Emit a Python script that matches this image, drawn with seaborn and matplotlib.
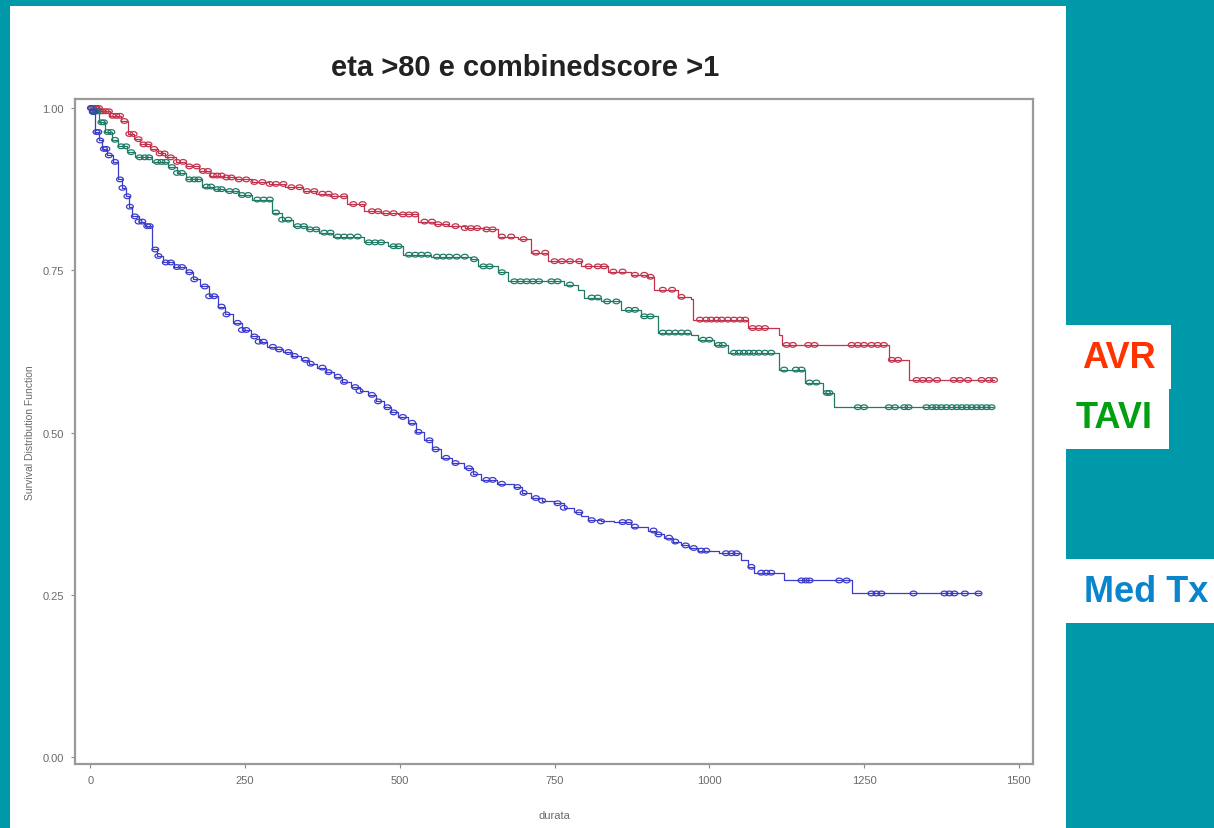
import numpy as np
import pandas as pd
import matplotlib
matplotlib.use("Agg")
import matplotlib.pyplot as plt
from matplotlib.path import Path
import seaborn as sns

# ---------------- data ----------------
groups = ["AVR", "TAVI", "Med Tx"]

avr_time = [0, 16, 32, 49, 61, 71, 81, 97, 110, 121, 138, 154, 175, 194, 215, 235, 262,
            288, 315, 343, 365, 388, 415, 442, 470, 497, 529, 555, 578, 605, 636, 659,
            691, 712, 739, 793, 837, 874, 901, 911, 950, 971, 974, 1063, 1112, 1117,
            1291, 1322, 1460]
avr_surv = [1.000, 0.995, 0.988, 0.980, 0.960, 0.952, 0.944, 0.937, 0.930, 0.924, 0.917,
            0.910, 0.903, 0.896, 0.893, 0.890, 0.886, 0.883, 0.878, 0.872, 0.868, 0.864,
            0.852, 0.841, 0.838, 0.836, 0.825, 0.821, 0.818, 0.815, 0.813, 0.802, 0.798,
            0.777, 0.764, 0.756, 0.748, 0.743, 0.740, 0.720, 0.709, 0.705, 0.674, 0.661,
            0.651, 0.635, 0.612, 0.581, 0.581]

tavi_time = [0, 3, 14, 24, 35, 45, 60, 73, 100, 126, 140, 154, 181, 200, 218, 240, 262,
             294, 310, 327, 350, 369, 392, 442, 481, 506, 550, 615, 626, 659, 675, 733,
             765, 788, 798, 825, 858, 890, 917, 971, 982, 1008, 1031, 1113, 1154, 1184,
             1201, 1458]
tavi_surv = [1.000, 0.995, 0.978, 0.963, 0.951, 0.941, 0.932, 0.924, 0.917, 0.909, 0.900,
             0.890, 0.879, 0.875, 0.872, 0.866, 0.859, 0.839, 0.828, 0.818, 0.813, 0.808,
             0.802, 0.793, 0.787, 0.774, 0.771, 0.767, 0.756, 0.747, 0.733, 0.733, 0.728,
             0.720, 0.708, 0.702, 0.689, 0.679, 0.654, 0.651, 0.643, 0.635, 0.623, 0.597,
             0.577, 0.561, 0.539, 0.539]

med_time = [0, 3, 8, 14, 19, 27, 36, 45, 51, 57, 63, 68, 78, 89, 100, 108, 117, 135, 154,
            166, 178, 192, 206, 218, 231, 245, 259, 272, 286, 299, 312, 326, 340, 354, 367,
            380, 393, 407, 421, 435, 448, 461, 474, 486, 497, 513, 526, 539, 552, 566, 585,
            604, 618, 631, 657, 684, 698, 712, 730, 749, 765, 782, 793, 804, 825, 846, 873,
            901, 914, 927, 941, 955, 968, 982, 1015, 1052, 1062, 1073, 1120, 1230, 1438]
med_surv = [1.000, 0.994, 0.963, 0.950, 0.937, 0.927, 0.917, 0.890, 0.877, 0.864, 0.848,
            0.833, 0.825, 0.818, 0.782, 0.772, 0.762, 0.755, 0.747, 0.736, 0.725, 0.710,
            0.694, 0.682, 0.669, 0.658, 0.648, 0.640, 0.632, 0.628, 0.624, 0.618, 0.612,
            0.606, 0.600, 0.593, 0.586, 0.578, 0.570, 0.564, 0.558, 0.548, 0.539, 0.531,
            0.524, 0.515, 0.501, 0.488, 0.474, 0.461, 0.453, 0.445, 0.436, 0.427, 0.421,
            0.416, 0.407, 0.399, 0.395, 0.391, 0.384, 0.377, 0.371, 0.365, 0.363, 0.362,
            0.355, 0.349, 0.343, 0.338, 0.332, 0.326, 0.322, 0.318, 0.314, 0.303, 0.293,
            0.284, 0.272, 0.252, 0.252]

avr_censor = [2, 5, 8, 10, 14, 17, 20, 25, 30, 36, 42, 48, 55, 63, 70, 78, 86, 94, 103, 112,
              120, 130, 140, 150, 160, 172, 182, 190, 198, 205, 212, 220, 228, 240, 252,
              265, 278, 290, 300, 312, 325, 338, 350, 362, 375, 385, 395, 410, 425, 440,
              455, 465, 478, 490, 505, 515, 525, 540, 552, 562, 575, 590, 605, 615, 625,
              640, 650, 665, 680, 700, 720, 735, 750, 762, 775, 790, 805, 820, 830, 845,
              860, 880, 895, 905, 925, 940, 955, 985, 995, 1003, 1012, 1020, 1030, 1040,
              1050, 1058, 1070, 1080, 1090, 1125, 1135, 1160, 1170, 1230, 1240, 1250,
              1262, 1272, 1282, 1295, 1305, 1335, 1345, 1355, 1368, 1395, 1405, 1418,
              1440, 1452, 1460]
tavi_censor = [2, 6, 9, 12, 18, 22, 28, 34, 40, 50, 58, 66, 80, 88, 95, 108, 115, 122, 132,
               140, 148, 160, 168, 175, 188, 195, 205, 212, 225, 235, 245, 255, 270, 280,
               290, 300, 310, 320, 335, 345, 355, 365, 378, 388, 400, 410, 420, 432, 450,
               460, 470, 490, 498, 515, 525, 535, 545, 560, 570, 580, 592, 605, 620, 635,
               645, 665, 685, 695, 705, 715, 725, 745, 755, 775, 810, 820, 835, 850, 870,
               880, 895, 905, 925, 935, 945, 955, 965, 990, 1000, 1015, 1022, 1040, 1048,
               1056, 1064, 1072, 1080, 1090, 1100, 1121, 1140, 1149, 1162, 1173, 1190,
               1194, 1240, 1250, 1290, 1300, 1315, 1322, 1351, 1360, 1367, 1375, 1383,
               1392, 1400, 1408, 1416, 1424, 1432, 1440, 1448, 1456]
med_censor = [1, 4, 6, 10, 13, 16, 22, 26, 30, 40, 48, 52, 60, 64, 72, 78, 84, 92, 96, 105,
              110, 122, 130, 140, 148, 160, 168, 185, 192, 200, 212, 220, 238, 245, 252,
              265, 272, 280, 295, 305, 320, 330, 348, 356, 375, 385, 400, 410, 428, 435,
              455, 465, 480, 490, 505, 520, 530, 548, 558, 575, 590, 612, 620, 640, 650,
              665, 690, 700, 720, 730, 755, 765, 790, 810, 825, 860, 870, 880, 910, 918,
              935, 945, 962, 975, 987, 995, 1027, 1036, 1044, 1068, 1084, 1092, 1100, 1149,
              1156, 1162, 1210, 1222, 1262, 1270, 1278, 1330, 1380, 1388, 1396, 1413,
              1435]

x_ticks = [0, 250, 500, 750, 1000, 1250, 1500]
y_ticks = [0.00, 0.25, 0.50, 0.75, 1.00]
y_ticklabels = ["0.00", "0.25", "0.50", "0.75", "1.00"]

line_colors = {"AVR": "#C2324C", "TAVI": "#1F7A66", "Med Tx": "#3B3BCC"}
label_colors = {"AVR": "#FF3300", "TAVI": "#00A010", "Med Tx": "#0A84CC"}

# ---------------- tables ----------------
curves = pd.concat([
    pd.DataFrame({"t": avr_time, "s": avr_surv, "g": "AVR"}),
    pd.DataFrame({"t": tavi_time, "s": tavi_surv, "g": "TAVI"}),
    pd.DataFrame({"t": med_time, "s": med_surv, "g": "Med Tx"}),
], ignore_index=True)


def at(times, survs, c):
    i = np.searchsorted(np.asarray(times), c, side="right") - 1
    return np.asarray(survs)[i]


cens = pd.concat([
    pd.DataFrame({"t": avr_censor, "s": at(avr_time, avr_surv, avr_censor), "g": "AVR"}),
    pd.DataFrame({"t": tavi_censor, "s": at(tavi_time, tavi_surv, tavi_censor), "g": "TAVI"}),
    pd.DataFrame({"t": med_censor, "s": at(med_time, med_surv, med_censor), "g": "Med Tx"}),
], ignore_index=True)

# slightly wide oval censor marker
_th = np.linspace(0, 2 * np.pi, 33)
oval = Path(np.column_stack([1.45 * np.cos(_th), np.sin(_th)]), closed=True)

# ---------------- figure ----------------
sns.set_theme(style="white")
plt.rcParams["font.family"] = ["Liberation Sans", "DejaVu Sans"]

fig = plt.figure(figsize=(12.14, 8.29), dpi=100)
fig.patch.set_facecolor("#0099AA")

# white slide panel (behind everything)
fig.patches.append(plt.Rectangle((10 / 1214, 0), (1066 - 10) / 1214, 1 - 7 / 829,
                                 transform=fig.transFigure, facecolor="white",
                                 edgecolor="none", zorder=-10))

ax = fig.add_axes([75 / 1214, 1 - 765 / 829, (1033 - 75) / 1214, (765 - 100) / 829])
ax.set_zorder(5)
ax.set_facecolor("white")

sns.lineplot(data=curves, x="t", y="s", hue="g", palette=line_colors, estimator=None,
             drawstyle="steps-post", linewidth=0.9, legend=False, ax=ax, sort=False)
sns.scatterplot(data=cens, x="t", y="s", hue="g", palette=line_colors, marker=oval,
                s=24, linewidth=0.9, legend=False, ax=ax, zorder=3)
for coll in ax.collections:
    fc = coll.get_facecolors()
    coll.set_edgecolors(fc)
    coll.set_facecolors("none")

ax.set_xlim(-24.7, 1523)
ax.set_ylim(-0.0108, 1.0139)
ax.set_xticks(x_ticks)
ax.set_xticklabels([str(v) for v in x_ticks])
ax.set_yticks(y_ticks)
ax.set_yticklabels(y_ticklabels)
ax.tick_params(axis="both", which="both", direction="out", length=3, width=0.8,
               color="#888888", labelcolor="#6a6a6a", labelsize=8, pad=5,
               bottom=True, left=True)
for sp in ax.spines.values():
    sp.set_color("#9a9a9a")
    sp.set_linewidth(1.6)
ax.set_xlabel("durata", fontsize=8, color="#6a6a6a", labelpad=18)
ax.set_ylabel("Survival Distribution Function", fontsize=7.5, color="#6a6a6a", labelpad=5)

fig.text(525 / 1214, 1 - 68 / 829, "eta >80 e combinedscore >1", ha="center", va="center",
         fontsize=21, fontweight="bold", color="#222222")

# right-hand labels on white boxes
boxes = [("AVR", 1066, 326, 1171, 390, 1119, 358),
         ("TAVI", 1066, 389, 1169, 450, 1114, 419),
         ("Med Tx", 1066, 560, 1214, 624, 1146, 592)]
for name, x0, y0, x1, y1, tx, ty in boxes:
    fig.patches.append(plt.Rectangle((x0 / 1214, 1 - y1 / 829), (x1 - x0) / 1214,
                                     (y1 - y0) / 829, transform=fig.transFigure,
                                     facecolor="white", edgecolor="none", zorder=1))
    fig.text(tx / 1214, 1 - ty / 829, name, ha="center", va="center", fontsize=26,
             fontweight="bold", color=label_colors[name], zorder=2)

fig.savefig("out.png", dpi=100, facecolor=fig.get_facecolor())
